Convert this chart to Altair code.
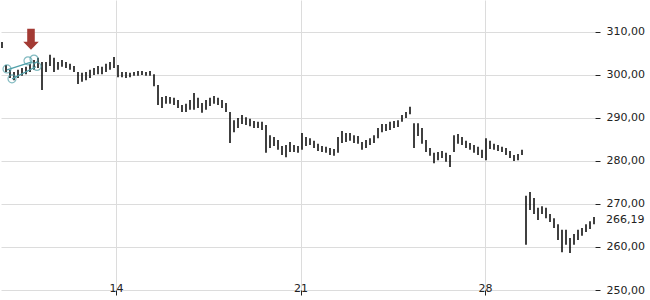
import altair as alt
import pandas as pd

# Intraday bar extremes (price), left to right
highs = [307.7, 302.3, 301.2, 300.7, 301.2, 301.6, 301.9, 302.6, 303.5, 304.0,
         303.0, 303.0, 304.7, 304.0, 303.0, 303.5, 303.0, 302.6, 302.1, 300.7,
         300.5, 300.7, 301.2, 301.6, 302.1, 301.9, 302.6, 303.0, 304.2, 302.3,
         300.7, 300.7, 300.5, 300.7, 300.9, 300.9, 300.7, 300.9, 300.2, 297.7,
         294.9, 295.1, 294.9, 294.7, 294.2, 293.0, 293.3, 294.2, 295.8, 294.7,
         293.5, 294.2, 294.7, 295.1, 294.7, 294.2, 293.5, 291.4, 289.5, 290.0,
         290.7, 290.2, 289.8, 289.3, 289.1, 289.1, 288.4, 286.0, 285.6, 284.9,
         283.5, 283.7, 284.4, 283.7, 283.5, 286.5, 285.6, 285.3, 284.7, 284.0,
         283.5, 283.3, 283.0, 282.8, 285.6, 287.0, 286.5, 286.5, 286.0, 285.8,
         284.4, 284.9, 285.3, 286.0, 287.7, 288.6, 288.6, 289.1, 289.3, 289.5,
         290.7, 291.4, 292.6, 288.8, 288.8, 287.7, 284.9, 283.0, 281.9, 282.1,
         282.3, 281.9, 281.4, 286.0, 286.3, 285.6, 284.7, 284.2, 283.7, 283.3,
         282.6, 285.3, 284.7, 284.0, 283.7, 283.3, 283.0, 282.3, 281.4, 281.6,
         282.6,
         271.9, 272.8, 271.4, 269.1, 269.5, 269.1, 267.7, 266.7, 265.3, 264.0,
         264.0, 262.1, 263.0, 264.0, 264.4, 265.3, 266.0, 267.0]
lows = [306.3, 300.7, 299.3, 298.8, 299.3, 299.8, 300.2, 300.7, 301.2, 301.6,
        296.5, 300.7, 302.1, 300.7, 301.2, 301.9, 301.6, 301.2, 300.7, 297.9,
        298.4, 298.8, 299.3, 300.0, 300.2, 300.2, 300.7, 301.2, 301.6, 299.5,
        299.5, 299.3, 299.5, 299.8, 299.8, 300.0, 299.8, 299.8, 297.4, 293.0,
        292.3, 293.3, 293.3, 293.0, 292.3, 291.4, 291.4, 291.9, 291.9, 292.3,
        291.2, 291.9, 292.8, 293.3, 293.0, 292.3, 291.4, 284.2, 286.7, 287.7,
        288.6, 288.4, 288.1, 287.7, 287.7, 287.2, 281.9, 283.0, 283.5, 282.6,
        281.4, 280.9, 282.1, 282.1, 281.9, 282.6, 283.5, 283.7, 283.0, 282.3,
        282.1, 281.9, 281.4, 281.2, 281.9, 284.2, 284.4, 284.7, 284.2, 284.0,
        282.6, 283.0, 283.7, 284.2, 285.3, 286.7, 287.0, 287.2, 287.7, 287.9,
        289.1, 290.0, 290.9, 283.0, 285.8, 284.0, 282.1, 281.2, 279.5, 280.2,
        280.7, 279.8, 278.6, 282.1, 284.0, 283.7, 283.0, 282.6, 281.9, 281.4,
        280.7, 280.2, 282.8, 282.6, 282.3, 282.1, 281.4, 280.7, 280.0, 280.2,
        281.4,
        260.5, 268.6, 267.7, 266.3, 267.7, 266.7, 265.8, 264.4, 261.6, 258.8,
        260.5, 258.6, 260.5, 261.6, 262.6, 263.5, 264.2, 265.3]

# Time axis in (fractional) days of the month, regular intraday sampling
PX_PER_DAY = 26.36
D0 = 9.637
D1 = D0 + 594 / PX_PER_DAY
T0 = D0 + 1 / PX_PER_DAY
STEP = 4 / PX_PER_DAY
times = [round(T0 + i * STEP, 6) for i in range(len(highs))]

x_ticks = [14, 21, 28]
y_ticks = [250, 260, 270, 280, 290, 300, 310]
last_price = 266.19

# Pattern markers (teal circles + lines) and the signal arrow
circle_t = [9.865, 10.054, 10.661, 10.889, 11.003]
circle_p = [301.4, 299.1, 303.3, 303.7, 302.0]
line_id = ["a", "a", "b", "b"]
line_t = [9.865, 10.775, 10.054, 10.965]
line_p = [301.2, 303.0, 299.1, 301.9]
arrow_t = [10.775]
arrow_p = [308.3]

bars = pd.DataFrame({"t": times, "high": highs, "low": lows})
circles = pd.DataFrame({"t": circle_t, "p": circle_p})
plines = pd.DataFrame({"id": line_id, "t": line_t, "p": line_p})
arrow = pd.DataFrame({"t": arrow_t, "p": arrow_p})

FONT = "DejaVu Sans"
xscale = alt.Scale(domain=[D0, D1], nice=False, zero=False)
yscale = alt.Scale(domain=[250, 317.44], nice=False, zero=False)

yaxis = alt.Axis(
    orient="right",
    values=y_ticks,
    labelExpr="replace(format(datum.value, '.2f'), '.', ',')",
    title=None,
    domain=False,
    grid=True,
    gridColor="#dcdcdc",
    tickColor="#222",
    tickSize=5,
    labelPadding=6,
    labelFont=FONT,
    labelFontSize=11,
    labelColor="#222",
    labelOverlap=False,
    labelFlush=False,
)
xaxis = alt.Axis(
    values=x_ticks,
    format="d",
    title=None,
    domain=False,
    grid=True,
    gridColor="#dcdcdc",
    tickColor="#222",
    tickSize=5,
    labelBaseline="alphabetic",
    labelPadding=-4,
    labelFont=FONT,
    labelFontSize=11,
    labelColor="#222",
    labelFlush=False,
)

bar_layer = alt.Chart(bars).mark_rule(color="#000000", strokeWidth=1.5).encode(
    x=alt.X("t:Q", scale=xscale, axis=xaxis),
    y=alt.Y("low:Q", scale=yscale, axis=yaxis),
    y2="high:Q",
)

line_layer = alt.Chart(plines).mark_line(color="#4f9fa8", strokeWidth=1.2).encode(
    x=alt.X("t:Q", scale=xscale, axis=xaxis),
    y=alt.Y("p:Q", scale=yscale, axis=yaxis),
    detail="id:N",
)

circle_layer = alt.Chart(circles).mark_point(
    shape="circle", filled=False, color="#4f9fa8", size=64, strokeWidth=1.2
).encode(
    x=alt.X("t:Q", scale=xscale, axis=xaxis),
    y=alt.Y("p:Q", scale=yscale, axis=yaxis),
)

arrow_path = "M-0.36,-1 L0.36,-1 L0.36,0.24 L0.74,0.24 L0,1 L-0.74,0.24 L-0.36,0.24 Z"
arrow_layer = alt.Chart(arrow).mark_point(
    shape=arrow_path, filled=True, color="#a33a34", size=441, opacity=1
).encode(
    x=alt.X("t:Q", scale=xscale, axis=xaxis),
    y=alt.Y("p:Q", scale=yscale, axis=yaxis),
)

last_df = pd.DataFrame({"p": [last_price], "label": ["266,19"]})
last_layer = alt.Chart(last_df).mark_text(
    align="left", baseline="middle", font=FONT, fontSize=11, color="#222", dx=11
).encode(
    x=alt.value(594),
    y=alt.Y("p:Q", scale=yscale, axis=yaxis),
    text="label:N",
)

chart = alt.layer(bar_layer, line_layer, circle_layer, arrow_layer, last_layer).properties(
    width=594, height=290, padding=0
).configure_view(stroke=None)

chart.save("out.html", embed_options={"renderer": "svg", "actions": False})
